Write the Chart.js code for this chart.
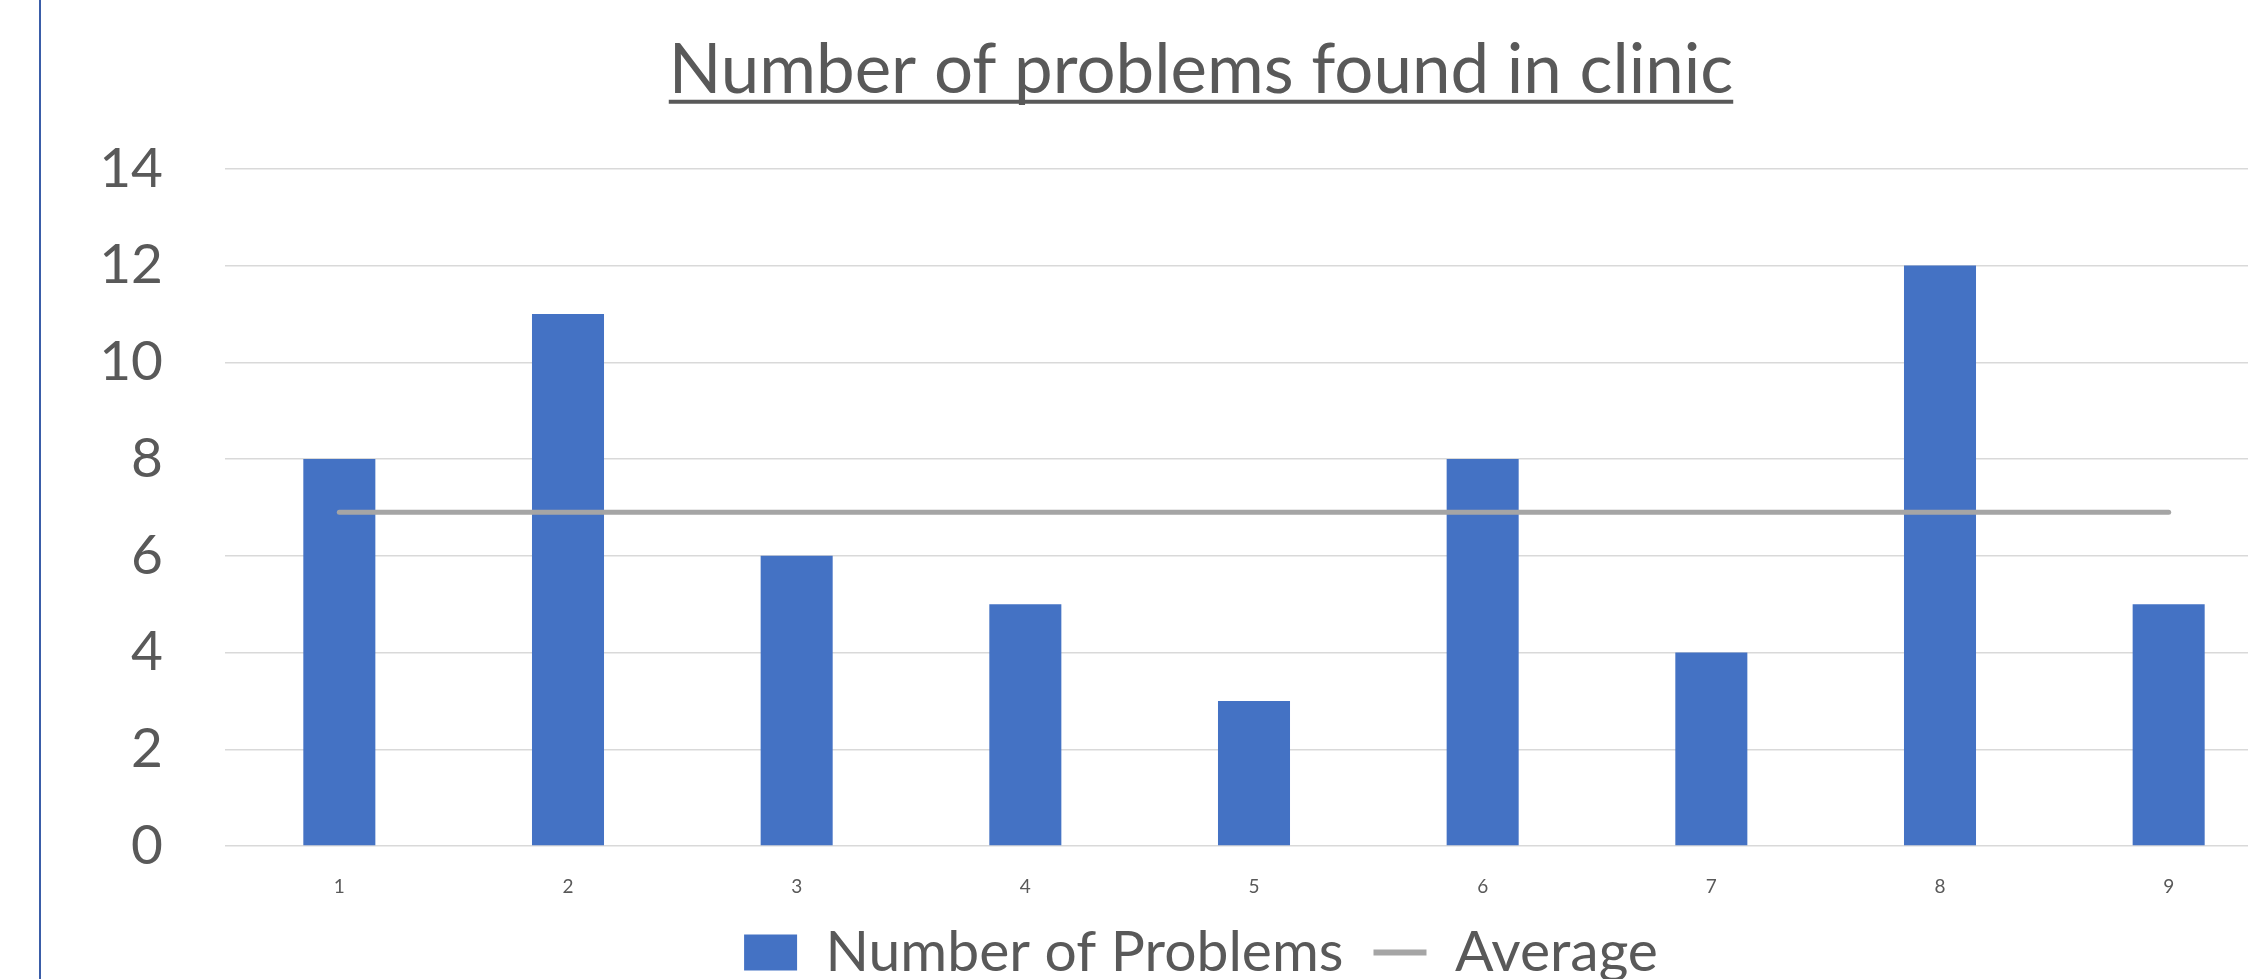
<!DOCTYPE html>
<html>
<head>
<meta charset="utf-8">
<script src="https://cdn.jsdelivr.net/npm/chart.js@4/dist/chart.umd.min.js"></script>
<style>
  html, body { margin: 0; padding: 0; background: #fff; overflow: hidden; }
  #frame {
    position: absolute; left: 39px; top: 0;
    width: 2320px; height: 991px;
    border-left: 2px solid #3a5da8;
  }
</style>
</head>
<body>
<div id="frame"><canvas id="problemsChart"></canvas></div>
<script>
const clinics = ['1', '2', '3', '4', '5', '6', '7', '8', '9'];
const problemCounts = [8, 11, 6, 5, 3, 8, 4, 12, 5];
const averageLine = [6.9, 6.9, 6.9, 6.9, 6.9, 6.9, 6.9, 6.9, 6.9];
const yTicks = [0, 2, 4, 6, 8, 10, 12, 14];

const textColor = '#595959';
const fontFamily = 'Lato, "Open Sans", sans-serif';
const titleText = 'Number of problems found in clinic';

// Chart.js has no underlined title, so draw the rule under it ourselves
const titleUnderline = {
  id: 'titleUnderline',
  afterDraw(chart) {
    const opts = chart.options.plugins.title;
    const block = chart.titleBlock;
    const ctx = chart.ctx;
    const size = opts.font.size;
    ctx.save();
    ctx.font = `${size}px ${fontFamily}`;
    ctx.textBaseline = 'middle';
    const w = ctx.measureText(titleText).width;
    const midY = block.top + opts.padding.top + size * opts.font.lineHeight / 2;
    const base = midY + ctx.measureText('N').actualBoundingBoxDescent;
    const centerX = (block.left + block.right) / 2;
    ctx.strokeStyle = textColor;
    ctx.lineWidth = 4;
    ctx.beginPath();
    ctx.moveTo(centerX - w / 2, base + 9);
    ctx.lineTo(centerX + w / 2, base + 9);
    ctx.stroke();
    ctx.restore();
  }
};

new Chart(document.getElementById('problemsChart'), {
  type: 'bar',
  data: {
    labels: clinics,
    datasets: [
      {
        type: 'bar',
        label: 'Number of Problems',
        data: problemCounts,
        backgroundColor: '#4472c4',
        barPercentage: 0.315,
        categoryPercentage: 1,
        order: 2
      },
      {
        type: 'line',
        label: 'Average',
        data: averageLine,
        borderColor: '#a5a5a5',
        backgroundColor: '#a5a5a5',
        borderWidth: 5,
        borderCapStyle: 'round',
        pointRadius: 0,
        pointStyle: 'line',
        order: 1
      }
    ]
  },
  options: {
    responsive: true,
    maintainAspectRatio: false,
    animation: false,
    layout: { padding: 0 },
    plugins: {
      title: {
        display: true,
        text: titleText,
        color: textColor,
        font: { family: fontFamily, size: 69, weight: 'normal', lineHeight: 1.2 },
        padding: { top: 29, bottom: 57 }
      },
      legend: {
        position: 'bottom',
        labels: {
          color: textColor,
          font: { family: fontFamily, size: 57 },
          usePointStyle: true,
          boxHeight: 36,
          pointStyleWidth: 53,
          padding: 30,
          sort: (a, b) => a.datasetIndex - b.datasetIndex,
          generateLabels(chart) {
            const items = Chart.defaults.plugins.legend.labels.generateLabels(chart);
            items.forEach(item => {
              item.pointStyle = item.datasetIndex === 0 ? 'rect' : 'line';
              item.lineWidth = item.datasetIndex === 0 ? 0 : 6;
            });
            return items;
          }
        }
      },
      tooltip: { enabled: false }
    },
    scales: {
      x: {
        grid: { display: false },
        border: { display: false },
        ticks: {
          color: textColor,
          font: { family: fontFamily, size: 19 },
          padding: 21
        },
        afterFit: s => { s.height = 48; }
      },
      y: {
        min: 0,
        max: 14,
        afterBuildTicks: s => { s.ticks = yTicks.map(v => ({ value: v })); },
        grid: { color: '#d9d9d9', lineWidth: 1.5, drawTicks: false },
        border: { display: false },
        ticks: {
          color: textColor,
          font: { family: fontFamily, size: 55 },
          padding: 62
        },
        afterFit: s => { s.width = 184; }
      },
      // empty right-hand margin so the plot area ends where the original does
      yRight: {
        position: 'right',
        grid: { display: false },
        border: { display: false },
        ticks: { display: false },
        afterFit: s => { s.width = 78; }
      }
    }
  },
  plugins: [titleUnderline]
});
</script>
</body>
</html>
